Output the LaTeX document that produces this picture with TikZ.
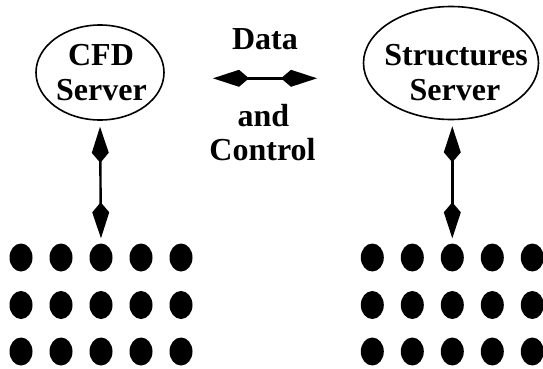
\documentclass[tikz,border=0pt]{standalone}
\usepackage{fontspec}
\setmainfont{Liberation Serif}
\usetikzlibrary{shapes.geometric,arrows.meta}
\tikzset{
  server/.style={draw, ellipse, line width=1.6pt, inner sep=0pt},
  dot/.style={fill=black, ellipse, inner sep=0pt, minimum width=23pt, minimum height=28pt},
  lbl/.style={anchor=base, inner sep=0pt, font=\fontsize{32}{35}\selectfont\bfseries},
  link/.style={line width=2.4pt, {Kite[length=36pt,width=17pt,inset=10pt]}-{Kite[length=36pt,width=17pt,inset=10pt]}}
}
\begin{document}
\begin{tikzpicture}[x=1pt,y=-1pt]
\useasboundingbox (0,0) rectangle (543,369);
\node[server, minimum width=128pt, minimum height=95pt] (cfd) at (100,72.5) {};
\node[server, minimum width=175pt, minimum height=113pt] (str) at (451,63) {};
\node[lbl] (t1) at (101,65) {CFD};
\node[lbl] (t2) at (101.5,100) {Server};
\node[lbl] (t3) at (456,65) {Structures};
\node[lbl] (t4) at (455,100) {Server};
\node[lbl] (t5) at (265,50) {Data};
\node[lbl] (t6) at (263.5,126.7) {and};
\node[lbl] (t7) at (262.5,160) {Control};
\foreach \r/\y in {1/257.5,2/305,3/351.5}{
  \foreach \c/\x in {1/21,2/61,3/101,4/141,5/181}{
    \node[dot] (l\r\c) at (\x,\y) {};
  }
  \foreach \c/\x in {1/372.3,2/412.3,3/452.3,4/492.3,5/532.3}{
    \node[dot] (r\r\c) at (\x,\y) {};
  }
}
\coordinate (hl) at (213,78.3);
\coordinate (hr) at (317,78.3);
\draw[link] (hl) -- (hr);
\draw[link, shorten <=6pt, shorten >=5pt] (cfd.south) -- (l13.north);
\draw[link, shorten <=6pt, shorten >=5pt] (str.south -| r13) -- (r13.north);
\end{tikzpicture}
\end{document}
